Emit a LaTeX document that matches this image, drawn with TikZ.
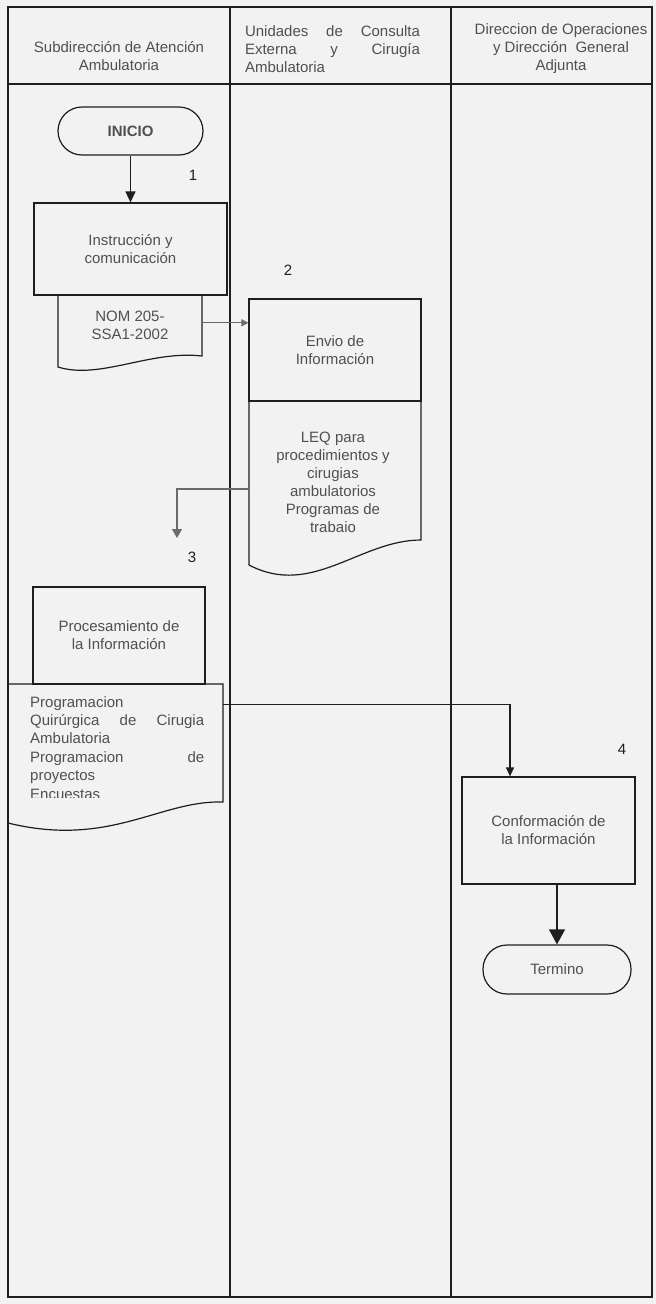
\documentclass[tikz,border=0pt]{standalone}
\usepackage{fontspec}
\setmainfont{Liberation Sans}
\usetikzlibrary{arrows.meta,calc}
\definecolor{bg}{HTML}{F2F2F2}
\definecolor{ink}{HTML}{1E1E1E}
\definecolor{txt}{HTML}{505050}
\definecolor{gline}{HTML}{6A6A6A}
\newcommand{\jline}[1]{\leavevmode\hbox to \linewidth{#1}}
\begin{document}
\begin{tikzpicture}[x=1pt,y=-1pt,
  font=\fontsize{15}{18}\selectfont,
  frame/.style={draw=ink, line width=1.2pt},
  box/.style={frame, rectangle, inner sep=0pt, text=txt, align=center},
  term/.style={frame, rectangle, rounded corners=24pt, inner sep=0pt, text=txt, align=center},
  docnode/.style={rectangle, inner sep=0pt, text=txt, align=center},
  hdr/.style={inner sep=0pt, text=txt},
  num/.style={inner sep=0pt, text=ink},
  conn/.style={draw=ink, line width=1.3pt},
  gconn/.style={draw=gline, line width=1.3pt}
]
% background / page
\fill[bg] (0,0) rectangle (656,1304);
\useasboundingbox (0,0) rectangle (656,1304);

% table
\draw[frame] (8,7) rectangle (652,1297);
\draw[frame] (8,84) -- (652,84);
\draw[frame] (230,7) -- (230,1297);
\draw[frame] (451,7) -- (451,1297);

% headers
\node[hdr, align=center] (h1) at (119,56) {Subdirección de Atención\\Ambulatoria};
\node[hdr, text width=175pt, align=left] (h2) at (332.5,49)
  {\jline{Unidades\hfill de\hfill Consulta}\\
   \jline{Externa\hfill y\hfill Cirugía}\\
   Ambulatoria};
\node[hdr, align=center] (h3) at (561,49) {Direccion de Operaciones\\y Dirección\ \ General\\Adjunta};

% step 0 / 1
\node[term, minimum width=145pt, minimum height=48pt] (inicio) at (130.5,131) {\bfseries INICIO};
\node[box, minimum width=193pt, minimum height=92pt] (instr) at (130.5,249) {Instrucción y\\comunicación};
\draw[frame] (58,295) -- (202,295) -- (202,356)
  .. controls (150,350) and (100,380) .. (58,367) -- cycle;
\node[docnode, minimum width=144pt, minimum height=77pt] (nom) at (130,333.5) {};
\node[docnode] (nomtxt) at (130,325) {NOM 205-\\SSA1-2002};
\node[num] (n1) at (193,175) {1};

% step 2
\node[box, minimum width=172pt, minimum height=102pt] (envio) at (335,350) {Envio de\\Información};
\draw[frame] (249,401) -- (421,401) -- (421,540)
  .. controls (360,540) and (312,598) .. (249,565) -- cycle;
\node[docnode, minimum width=172pt, minimum height=176pt] (leq) at (335,489) {};
\node[docnode] (leqtxt) at (333,482) {LEQ para\\procedimientos y\\cirugias\\ambulatorios\\Programas de\\trabaio};
\node[num] (n2) at (288,270) {2};

% step 3
\draw[frame] (8,684) -- (223,684) -- (223,802)
  .. controls (160,800) and (110,848) .. (8,823) -- cycle;
\node[docnode, minimum width=215pt, minimum height=148pt] (prog) at (115.5,758) {};
\begin{scope}
  \clip (8,684) rectangle (223,797);
  \node[docnode, anchor=north west, text width=174pt, align=left,
        font=\fontsize{15}{18.4}\selectfont] (progtxt) at (30,696)
    {Programacion\\
     \jline{Quirúrgica\hfill de\hfill Cirugia}\\
     Ambulatoria\\
     \jline{Programacion\hfill de}\\
     proyectos\\
     Encuestas};
\end{scope}
\node[box, minimum width=172pt, minimum height=97pt, fill=bg] (proc) at (119,635.5) {Procesamiento de\\la Información};
\node[num] (n3) at (192,557) {3};

% step 4
\node[box, minimum width=173pt, minimum height=107pt] (conf) at (548.5,830.5) {Conformación de\\la Información};
\node[term, minimum width=148pt, minimum height=49pt] (termino) at (557,969.5) {Termino};
\node[num] (n4) at (622,749) {4};

% connectors
\draw[conn, -{Triangle[length=11pt,width=10pt]}] (inicio.south) -- (instr.north);
\path (nom.north east) ++(0,28) coordinate (a1);
\draw[gconn, -{Triangle[length=7pt,width=7pt]}] (a1) -- (a1 -| envio.west);
\coordinate (c3) at (177,538);
\draw[gconn, -{Triangle[length=9pt,width=10pt]}] (leq.west) -| (c3);
\path (prog.north east) ++(0,21) coordinate (a3);
\draw[conn, -{Triangle[length=9pt,width=8pt]}] (a3) -| ([xshift=-38.5pt]conf.north);
\draw[conn, -{Triangle[length=15pt,width=16pt]}] (conf.south -| termino.north) -- (termino.north);
\end{tikzpicture}
\end{document}
